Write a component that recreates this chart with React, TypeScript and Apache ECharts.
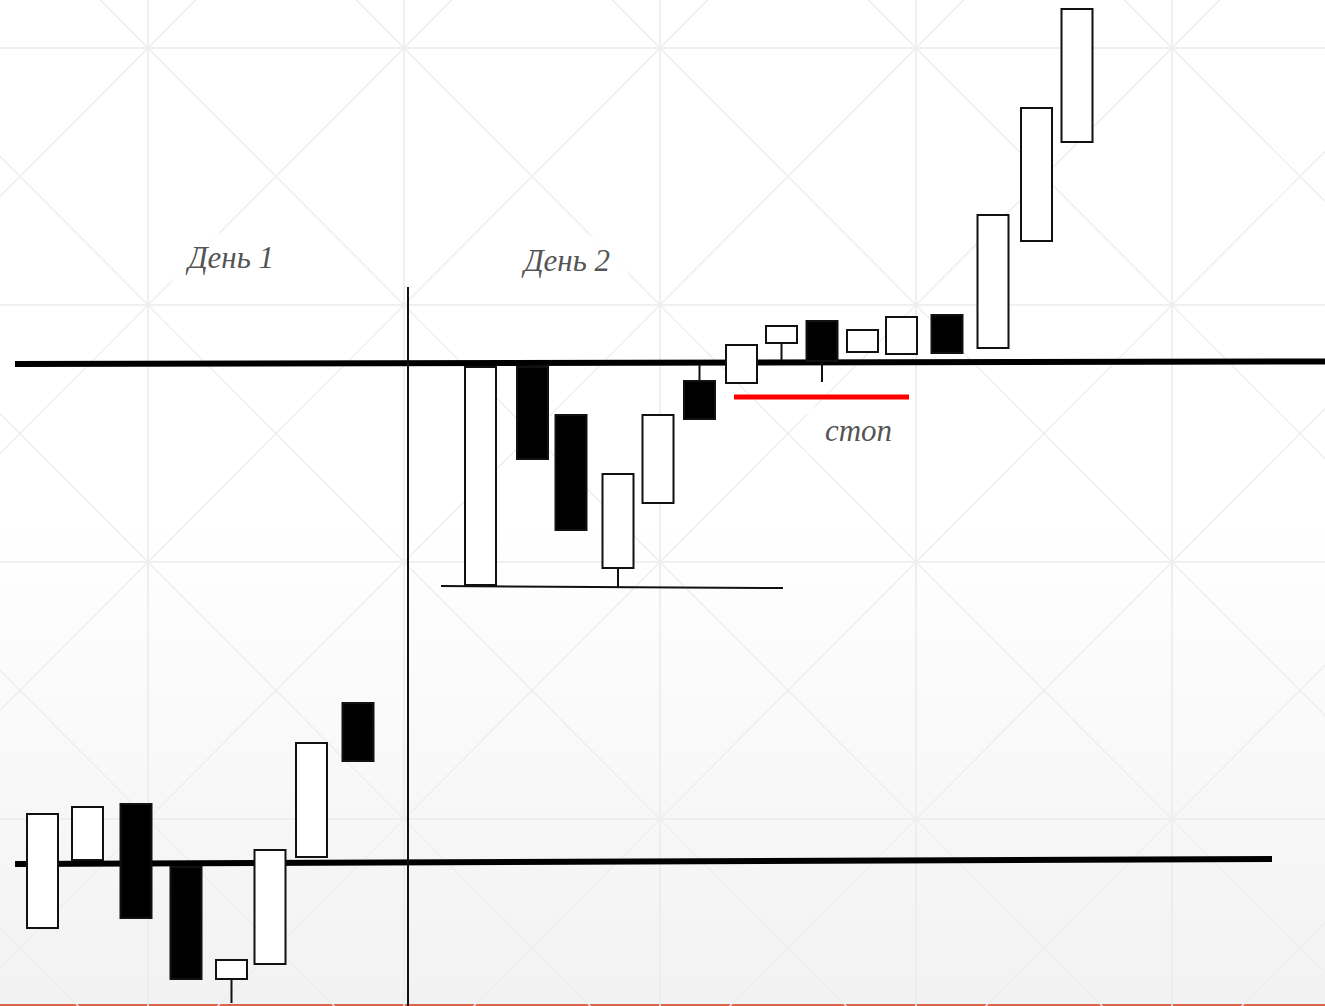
import React, { useEffect, useRef } from "react";
import * as echarts from "echarts";

// x = time position (1 unit = 10 px), y = price (1 unit = 10 px)
// candles: [x, open, close, low, high]
const day1Candles: number[][] = [
  [4.25, 7.7, 19.3, 7.7, 19.3],
  [8.75, 14.5, 20.0, 14.5, 20.0],
  [13.6, 20.3, 8.7, 8.7, 20.3],
  [18.6, 14.0, 2.6, 2.6, 14.0],
  [23.15, 2.6, 4.7, 0.3, 4.7],
  [27.0, 4.1, 15.7, 4.1, 15.7],
  [31.15, 14.8, 26.4, 14.8, 26.4],
  [35.8, 30.4, 24.4, 24.4, 30.4],
];

const day2Candles: number[][] = [
  [48.05, 42.0, 64.0, 42.0, 64.0],
  [53.25, 64.0, 54.6, 54.6, 64.0],
  [57.1, 59.2, 47.5, 47.5, 59.2],
  [61.8, 43.7, 53.3, 41.9, 53.3],
  [65.8, 50.2, 59.2, 50.2, 59.2],
  [69.95, 62.6, 58.6, 58.6, 64.2],
  [74.15, 62.2, 66.2, 62.2, 66.2],
  [78.15, 66.2, 68.1, 64.6, 68.1],
  [82.2, 68.6, 64.4, 62.4, 68.6],
  [86.25, 65.3, 67.7, 65.3, 67.7],
  [90.15, 65.1, 69.0, 65.1, 69.0],
  [94.7, 69.2, 65.2, 65.2, 69.2],
  [99.3, 65.7, 79.2, 65.7, 79.2],
  [103.65, 76.4, 89.9, 76.4, 89.9],
  [107.7, 86.3, 99.8, 86.3, 99.8],
];

// levels / drawn lines: [[x1, y1], [x2, y2]]
const upperLevel: number[][] = [[1.5, 64.2], [132.5, 64.45]];
const lowerLevel: number[][] = [[1.5, 14.2], [127.2, 14.7]];
const daySeparator: number[][] = [[40.8, 0], [40.8, 71.9]];
const day2Base: number[][] = [[44.1, 42.0], [78.3, 41.8]];
const stopLine: number[][] = [[73.4, 60.9], [90.9, 60.9]];

// labels: [x, y, text]
const labels: (number | string)[][] = [
  [23.1, 74.9, "День 1"],
  [56.7, 74.6, "День 2"],
  [85.85, 57.6, "стоп"],
];

const CANDLE_W = 3.3;

// background watermark lattice (in cell units), mapped into chart units
const CELL_X0 = -10.8, CELL_DX = 25.6; // x = CELL_X0 + CELL_DX * u
const CELL_Y0 = 121.5, CELL_DY = 25.7; // y = CELL_Y0 - CELL_DY * v
const CELLS_U = 6, CELLS_V = 5;

function toChart(u: number, v: number): number[] {
  return [CELL_X0 + CELL_DX * u, CELL_Y0 - CELL_DY * v];
}

function gridSegments(): number[][][] {
  const segs: number[][][] = [];
  for (let u = 0; u <= CELLS_U; u++) segs.push([toChart(u, 0), toChart(u, CELLS_V)]);
  for (let v = 0; v <= CELLS_V; v++) segs.push([toChart(0, v), toChart(CELLS_U, v)]);
  return segs;
}

function diagonalSegments(): number[][][] {
  const segs: number[][][] = [];
  const W = CELLS_U, H = CELLS_V;
  for (let c = -H; c <= W; c++) {
    const x0 = Math.max(0, c), x1 = Math.min(W, H + c);
    if (x1 > x0) segs.push([toChart(x0, x0 - c), toChart(x1, x1 - c)]);
  }
  for (let c = 0; c <= W + H; c++) {
    const x0 = Math.max(0, c - H), x1 = Math.min(W, c);
    if (x1 > x0) segs.push([toChart(x0, c - x0), toChart(x1, c - x1)]);
  }
  return segs;
}

function lineSeries(data: number[][], color: string, width: number, z = 3) {
  return {
    type: "line",
    data,
    symbol: "none",
    silent: true,
    z,
    lineStyle: { color, width, cap: "butt" },
  };
}

export default function App() {
  const ref = useRef<HTMLDivElement>(null);

  useEffect(() => {
    if (!ref.current) return;
    const chart = echarts.init(ref.current, undefined, { renderer: "svg" });

    const renderCandle = (params: any, api: any) => {
      const x = api.value(0);
      const o = api.value(1);
      const c = api.value(2);
      const l = api.value(3);
      const h = api.value(4);
      const pO = api.coord([x, o]);
      const pC = api.coord([x, c]);
      const pL = api.coord([x, l]);
      const pH = api.coord([x, h]);
      const w = api.size([CANDLE_W, 0])[0];
      const up = c >= o;
      const top = Math.min(pO[1], pC[1]);
      const bottom = Math.max(pO[1], pC[1]);
      return {
        type: "group",
        children: [
          {
            type: "line",
            shape: { x1: pO[0], y1: pL[1], x2: pO[0], y2: pH[1] },
            style: { stroke: "#111", lineWidth: 2 },
          },
          {
            type: "rect",
            shape: { x: pO[0] - w / 2 + 1, y: top + 1, width: w - 2, height: bottom - top - 2 },
            style: { fill: up ? "#ffffff" : "#000000", stroke: "#111", lineWidth: 2 },
          },
        ],
      };
    };

    const candleSeries = (data: number[][]) => ({
      type: "custom",
      data,
      z: 5,
      silent: true,
      clip: false,
      encode: { x: 0, y: [1, 2, 3, 4] },
      renderItem: renderCandle,
    });

    const hidden = {
      axisLine: { show: false },
      axisTick: { show: false },
      axisLabel: { show: false },
      splitLine: { show: false },
    };

    chart.setOption({
      animation: false,
      backgroundColor: {
        type: "linear",
        x: 0, y: 0, x2: 0, y2: 1,
        colorStops: [
          { offset: 0, color: "#ffffff" },
          { offset: 0.52, color: "#ffffff" },
          { offset: 1, color: "#f2f2f2" },
        ],
      },
      grid: { left: 0, top: 0, width: 1325, height: 1006 },
      xAxis: { type: "value", min: 0, max: 132.5, ...hidden },
      yAxis: { type: "value", min: 0, max: 100.6, ...hidden },
      series: [
        {
          type: "lines",
          coordinateSystem: "cartesian2d",
          silent: true,
          z: 1,
          data: gridSegments().map((s) => ({ coords: s })),
          lineStyle: { color: "#ebebeb", width: 1.6, opacity: 1 },
        },
        {
          type: "lines",
          coordinateSystem: "cartesian2d",
          silent: true,
          z: 1,
          data: diagonalSegments().map((s) => ({ coords: s })),
          lineStyle: { color: "#eeeeee", width: 1.4, opacity: 1 },
        },
        lineSeries(upperLevel, "#000", 6),
        lineSeries(lowerLevel, "#000", 6),
        lineSeries(daySeparator, "#111", 2),
        lineSeries(day2Base, "#111", 2),
        lineSeries(stopLine, "#ff0000", 5),
        candleSeries(day1Candles),
        candleSeries(day2Candles),
        {
          type: "scatter",
          data: labels,
          symbolSize: 1,
          silent: true,
          z: 6,
          itemStyle: { color: "rgba(0,0,0,0)" },
          label: {
            show: true,
            position: "inside",
            formatter: (p: any) => p.data[2],
            fontFamily: "Liberation Serif",
            fontStyle: "italic",
            fontSize: 31,
            color: "#262626",
            backgroundColor: "#ffffff",
            padding: [8, 18],
          },
        },
      ],
      graphic: [
        {
          type: "rect",
          left: 0,
          bottom: 0,
          shape: { width: 1325, height: 2 },
          style: { fill: "#d9654b" },
          silent: true,
        },
      ],
    });

    return () => chart.dispose();
  }, []);

  return (
    <div
      ref={ref}
      style={{ position: "fixed", left: 0, top: 0, width: 1325, height: 1006 }}
    />
  );
}
